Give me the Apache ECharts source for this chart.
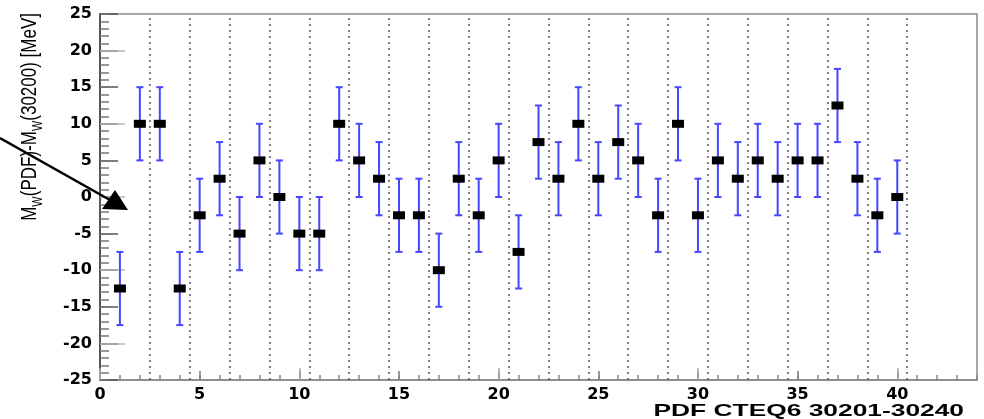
<!DOCTYPE html>
<html>
<head>
<meta charset="utf-8">
<script src="https://cdn.jsdelivr.net/npm/echarts@6/dist/echarts.min.js"></script>
<style>
html, body { margin: 0; padding: 0; background: #fff; }
#mwShift { width: 984px; height: 419px; }
</style>
</head>
<body>
<div id="mwShift"></div>
<script>
// PDF member numbers (CTEQ6 30201-30240 -> 1..40)
var pdfMember = [1, 2, 3, 4, 5, 6, 7, 8, 9, 10, 11, 12, 13, 14, 15, 16, 17, 18, 19, 20,
    21, 22, 23, 24, 25, 26, 27, 28, 29, 30, 31, 32, 33, 34, 35, 36, 37, 38, 39, 40];
// M_W(PDF) - M_W(30200) in MeV
var mwShift = [-12.5, 10, 10, -12.5, -2.5, 2.5, -5, 5, 0, -5, -5, 10, 5, 2.5, -2.5, -2.5, -10, 2.5, -2.5, 5,
    -7.5, 7.5, 2.5, 10, 2.5, 7.5, 5, -2.5, 10, -2.5, 5, 2.5, 5, 2.5, 5, 5, 12.5, 2.5, -2.5, 0];
// stat error on each shift, MeV
var mwError = [5, 5, 5, 5, 5, 5, 5, 5, 5, 5, 5, 5, 5, 5, 5, 5, 5, 5, 5, 5,
    5, 5, 5, 5, 5, 5, 5, 5, 5, 5, 5, 5, 5, 5, 5, 5, 5, 5, 5, 5];
// dotted lines between eigenvector pairs
var pairEdges = [2.5, 4.5, 6.5, 8.5, 10.5, 12.5, 14.5, 16.5, 18.5, 20.5,
    22.5, 24.5, 26.5, 28.5, 30.5, 32.5, 34.5, 36.5, 38.5, 40.5];
var xTen = [0, 10, 20, 30, 40];
var yTen = [-20, -10, 0, 10, 20];

init();

function init() {
    var chart = echarts.init(document.getElementById('mwShift'));
    var fnt = 'DejaVu Sans';

    var barData = [], pointData = [];
    for (var i = 0; i < pdfMember.length; i++) {
        barData.push([pdfMember[i], mwShift[i] - mwError[i], mwShift[i] + mwError[i]]);
        pointData.push([pdfMember[i], mwShift[i]]);
    }

    var xBase = {
        type: 'value', min: 0, max: 44, position: 'bottom',
        splitLine: { show: false },
        axisLine: { show: false, onZero: false },
        axisLabel: { show: false },
        axisTick: { inside: true }
    };
    var yBase = {
        type: 'value', min: -25, max: 25, position: 'left',
        splitLine: { show: false },
        axisLine: { show: false, onZero: false },
        axisLabel: { show: false },
        axisTick: { inside: true }
    };

    var option = {
        animation: false,
        grid: {
            left: 100, right: 7, top: 14, bottom: 39,
            show: true,
            borderColor: '#8a8a8a',
            borderWidth: 1.5
        },
        xAxis: [
            echarts.util.merge({
                interval: 5,
                axisLine: { show: true, lineStyle: { color: '#888', width: 1.5 } },
                axisTick: { length: 9, lineStyle: { color: '#777', width: 1.5 } },
                axisLabel: {
                    show: true, showMaxLabel: false, margin: 7,
                    color: '#000', fontFamily: fnt, fontWeight: 'bold', fontSize: 16
                }
            }, xBase, false),
            echarts.util.merge({
                interval: 1,
                axisTick: { length: 5, lineStyle: { color: '#888', width: 1.5 } }
            }, xBase, false),
            echarts.util.merge({
                axisTick: { length: 12, customValues: xTen, lineStyle: { color: '#aaa', width: 1.5 } }
            }, xBase, false)
        ],
        yAxis: [
            echarts.util.merge({
                interval: 5,
                axisLine: { show: true, lineStyle: { color: '#555', width: 2 } },
                axisTick: { length: 18, lineStyle: { color: '#555', width: 1.5 } },
                axisLabel: {
                    show: true, margin: 8,
                    color: '#000', fontFamily: fnt, fontWeight: 'bold', fontSize: 16
                }
            }, yBase, false),
            echarts.util.merge({
                interval: 1,
                axisTick: { length: 9, lineStyle: { color: '#777', width: 1.5 } }
            }, yBase, false),
            echarts.util.merge({
                axisTick: { length: 25, customValues: yTen, lineStyle: { color: '#b5b5b5', width: 1.5 } }
            }, yBase, false)
        ],
        graphic: [
            {
                type: 'text', x: 30, y: 13, rotation: Math.PI / 2, scaleY: 1.3, z: 10,
                style: {
                    text: '{m|M}{s|W}{m|(PDF)-M}{s|W}{m|(30200) [MeV]}',
                    align: 'right', verticalAlign: 'middle',
                    rich: {
                        m: { fontFamily: 'Liberation Sans', fontSize: 17, lineHeight: 24, verticalAlign: 'middle', fill: '#000' },
                        s: { fontFamily: 'Liberation Sans', fontSize: 11, lineHeight: 13, verticalAlign: 'bottom', fill: '#000' }
                    }
                }
            },
            {
                type: 'text', x: 964, y: 411, scaleX: 1.55, z: 10,
                style: {
                    text: 'PDF CTEQ6 30201-30240',
                    align: 'right', verticalAlign: 'middle',
                    fontFamily: 'Liberation Sans', fontWeight: 'bold', fontSize: 17, fill: '#000'
                }
            },
            // annotation arrow pointing at the origin
            {
                type: 'line', z: 20,
                shape: { x1: 0, y1: 138, x2: 110, y2: 200 },
                style: { stroke: '#000', lineWidth: 2.5 }
            },
            {
                type: 'polygon', z: 20,
                shape: { points: [[128, 210], [115, 190], [102, 209]] },
                style: { fill: '#000' }
            }
        ],
        series: [
            {
                type: 'custom',
                name: 'error',
                data: barData,
                z: 3,
                renderItem: function (params, api) {
                    var x = api.value(0);
                    var lo = api.coord([x, api.value(1)]);
                    var hi = api.coord([x, api.value(2)]);
                    var st = { stroke: '#4646ff', lineWidth: 2 };
                    return {
                        type: 'group',
                        children: [
                            { type: 'line', shape: { x1: lo[0], y1: lo[1], x2: hi[0], y2: hi[1] }, style: st },
                            { type: 'line', shape: { x1: lo[0] - 3.5, y1: lo[1], x2: lo[0] + 3.5, y2: lo[1] }, style: st },
                            { type: 'line', shape: { x1: hi[0] - 3.5, y1: hi[1], x2: hi[0] + 3.5, y2: hi[1] }, style: st }
                        ]
                    };
                },
                markLine: {
                    silent: true,
                    symbol: 'none',
                    label: { show: false },
                    lineStyle: { color: '#555', type: [2, 4], width: 1.5 },
                    data: pairEdges.map(function (v) { return { xAxis: v }; })
                }
            },
            {
                type: 'scatter',
                name: 'shift',
                data: pointData,
                symbol: 'rect',
                symbolSize: [12, 8],
                itemStyle: { color: '#000', opacity: 1 },
                z: 4
            }
        ]
    };
    chart.setOption(option);
    window.addEventListener('resize', chart.resize);
}
</script>
</body>
</html>
